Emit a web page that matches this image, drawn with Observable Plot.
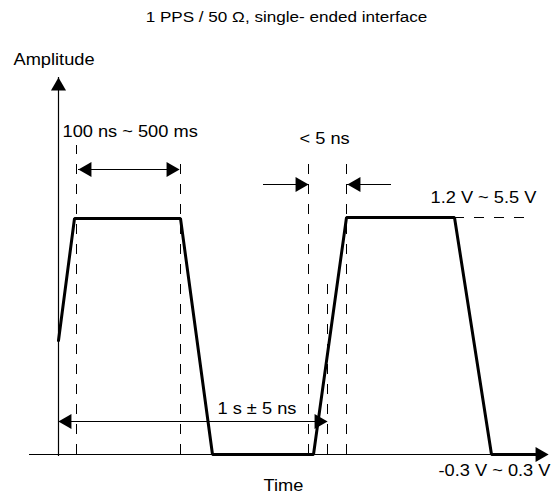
<!DOCTYPE html>
<html><head><meta charset="utf-8">
<script src="https://cdn.jsdelivr.net/npm/d3@7"></script>
<script src="https://cdn.jsdelivr.net/npm/@observablehq/plot@0.6"></script>
<style>body{margin:0;background:#fff;} svg{display:block;}</style>
</head><body><div id="chart"></div>
<script>
// Schematic units: time t (origin at the amplitude axis), amplitude a (origin at the time axis)
const waveT = [0, 16, 122, 154, 255, 288, 396, 433, 477];
const waveA = [114, 236, 236, 0, 0, 237, 237, 0, 0];

// dashed guide lines
const guideT   = [18, 122, 250, 269, 288];
const guideTop = [309, 299, 295, 172, 294];
const levelT   = [396, 470];
const levelA   = 237;

// dimension arrows
const dimNames = ["width", "riseL", "riseR", "period"];
const dimT1 = [20, 205, 333, 0];
const dimT2 = [121, 250, 289, 269];
const dimA  = [285, 270, 270, 33];

// arrow heads (tips)
const headRightT = [121, 250, 269, 490];
const headRightA = [285, 270, 33, 0];
const headLeftT  = [20, 289, 0];
const headLeftA  = [285, 270, 33];
const headUpT = [0];
const headUpA = [377];

// axes lines
const axisHT = [-29, 490];
const axisVA = [-2, 377];

// labels
const title = "1 PPS / 50 \u03A9, single- ended interface";
const titleT = 228, titleA = 433;
const labels = ["Amplitude", "100 ns ~ 500 ms", "< 5 ns", "1.2 V ~ 5.5 V", "1 s \u00B1 5 ns", "-0.3 V ~ 0.3 V", "Time"];
const labelT = [-45, 4, 241, 372, 159, 380, 205];
const labelA = [390, 318, 311, 252, 41, -21, -36];

const wave = waveT.map((t, i) => ({t, a: waveA[i]}));
const guides = guideT.map((t, i) => ({t, a1: 0, a2: guideTop[i]}));
const dims = dimNames.map((n, i) => ({n, t1: dimT1[i], t2: dimT2[i], a: dimA[i]}));
const hr = headRightT.map((t, i) => ({t, a: headRightA[i]}));
const hl = headLeftT.map((t, i) => ({t, a: headLeftA[i]}));
const hu = headUpT.map((t, i) => ({t, a: headUpA[i]}));
const lab = labels.map((s, i) => ({s, t: labelT[i], a: labelA[i]}));

const off = 8.6, hr_ = 5.6;
const font = "Liberation Sans, Arial, sans-serif";

const chart = Plot.plot({
  width: 558, height: 494,
  margin: 0,
  x: {domain: [-58, 500], axis: null},
  y: {domain: [-40, 454], axis: null},
  style: {fontFamily: font, background: "#fff"},
  marks: [
    // axes
    Plot.ruleY([0], {x1: axisHT[0], x2: axisHT[1], stroke: "#000", strokeWidth: 1.2}),
    Plot.ruleX([0], {y1: axisVA[0], y2: axisVA[1], stroke: "#000", strokeWidth: 1.2}),
    // guides
    Plot.ruleX(guides, {x: "t", y1: "a1", y2: "a2", stroke: "#000", strokeWidth: 1, strokeDasharray: "10,10"}),
    Plot.ruleY([levelA], {x1: levelT[0], x2: levelT[1], stroke: "#000", strokeWidth: 1, strokeDasharray: "10,10"}),
    // dimension arrows
    Plot.ruleY(dims, {y: "a", x1: "t1", x2: "t2", stroke: "#000", strokeWidth: 1.2}),
    Plot.dot(hr, {x: "t", y: "a", symbol: "triangle", rotate: 90, r: hr_, fill: "#000", stroke: "none", dx: -off}),
    Plot.dot(hl, {x: "t", y: "a", symbol: "triangle", rotate: -90, r: hr_, fill: "#000", stroke: "none", dx: off}),
    Plot.dot(hu, {x: "t", y: "a", symbol: "triangle", rotate: 0, r: hr_, fill: "#000", stroke: "none", dy: off}),
    // waveform
    Plot.line(wave, {x: "t", y: "a", stroke: "#000", strokeWidth: 3, strokeLinejoin: "miter"}),
    // labels
    Plot.text(lab, {x: "t", y: "a", text: "s", textAnchor: "start", lineAnchor: "bottom", fontSize: 16, fill: "#000"}),
    Plot.text([title], {x: titleT, y: titleA, text: d => d, textAnchor: "middle", lineAnchor: "bottom", fontSize: 15, fill: "#000"})
  ]
});
// the reference lettering is slightly wide: stretch text horizontally about its anchor
d3.select(chart).selectAll("text").each(function() {
  const tr = this.getAttribute("transform") || "";
  const x = this.getAttribute("x"), y = this.getAttribute("y");
  if (x != null || y != null) {
    const xv = +(x || 0), yv = +(y || 0);
    this.removeAttribute("x"); this.removeAttribute("y");
    this.setAttribute("transform", `${tr} translate(${xv},${yv}) scale(1.14,1)`);
  } else {
    this.setAttribute("transform", `${tr} scale(1.14,1)`);
  }
});
document.getElementById("chart").append(chart);
</script>
</body></html>
